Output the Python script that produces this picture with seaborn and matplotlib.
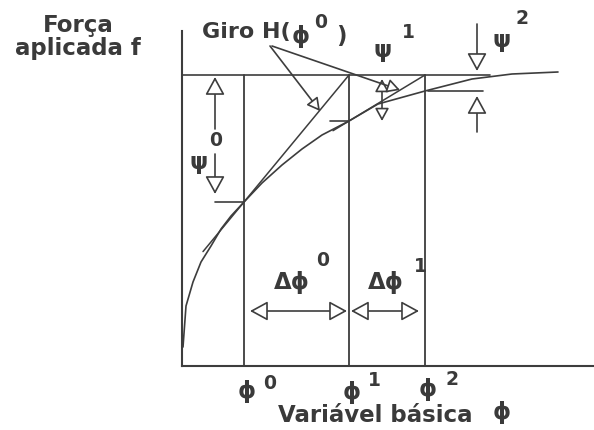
import matplotlib
matplotlib.use("Agg")
import matplotlib.pyplot as plt
from matplotlib.patches import ArrowStyle
import seaborn as sns

sns.set_style("white")
plt.rcParams["font.family"] = ["DejaVu Sans"]

INK = "#3d3d3d"
TXT = "#3a3a3a"

# Response curve f(phi), read as (phi, force) pairs in plot units
curve_phi = [1, 4, 11, 19, 29, 39, 49, 62, 80, 100, 120, 140, 167, 196, 243, 290, 330, 376]
curve_force = [19, 60, 84, 104, 120, 137, 150, 164, 183, 201, 217, 231, 245, 262, 275, 287, 292, 294]

# Iterates phi^0, phi^1, phi^2 and the force reached at each of them
phi_iter = [62, 167, 243]
force_iter = [164, 245, 275]
iter_names = ["0", "1", "2"]

# Applied load level
f_applied = 291
f_line_end = 308

# How far each tangent (stiffness H) is drawn to the left of its iterate
tangent_back = [41, 16]

PHI = "\u03d5"
PSI = "\u03c8"

fig = plt.figure(figsize=(5.94, 4.31), dpi=100)
ax = fig.add_axes([182 / 594, (431 - 367) / 431, 412 / 594, 335 / 431])
ax.set_xlim(0, 412)
ax.set_ylim(0, 335)
ax.set_xticks([])
ax.set_yticks([])
for s in ["top", "right"]:
    ax.spines[s].set_visible(False)
for s in ["left", "bottom"]:
    ax.spines[s].set_color(INK)
    ax.spines[s].set_linewidth(1.5)

# Equilibrium curve
sns.lineplot(x=curve_phi, y=curve_force, ax=ax, color=INK, lw=1.2, sort=False)

# Applied force level
ax.plot([0, f_line_end], [f_applied, f_applied], color=INK, lw=1.2)

# Vertical lines at each iterate
for p in phi_iter:
    ax.plot([p, p], [0, f_applied], color=INK, lw=1.3)

# Tangent lines: from the curve at phi^k up to the load level at phi^(k+1)
for k in range(2):
    x0, y0 = phi_iter[k], force_iter[k]
    x1, y1 = phi_iter[k + 1], f_applied
    slope = (y1 - y0) / (x1 - x0)
    xs = x0 - tangent_back[k]
    ax.plot([xs, x1], [y0 - slope * tangent_back[k], y1], color=INK, lw=1.1)

# Short ticks marking the force reached at each iterate
ax.plot([phi_iter[0] - 29, phi_iter[0]], [force_iter[0]] * 2, color=INK, lw=1.2)
ax.plot([phi_iter[1] - 19, phi_iter[1]], [force_iter[1]] * 2, color=INK, lw=1.2)
ax.plot([phi_iter[2] + 3, phi_iter[2] + 58], [force_iter[2]] * 2, color=INK, lw=1.2)


def arrow(x0, y0, x1, y1, style="-|>", scale=10):
    ax.annotate("", xy=(x1, y1), xytext=(x0, y0), annotation_clip=False,
                arrowprops=dict(arrowstyle=ArrowStyle(style, head_length=1.1, head_width=0.6),
                                mutation_scale=scale, fc="white", ec=INK, lw=1.2,
                                shrinkA=0, shrinkB=0))


# Residual psi^0 (split around its label)
arrow(33, 237, 33, f_applied - 2)
arrow(33, 212, 33, force_iter[0] + 8)
# Residual psi^1
arrow(200, force_iter[1], 200, f_applied - 4, style="<|-|>", scale=7)
# Residual psi^2
arrow(295, 342, 295, f_applied + 4)
arrow(295, 234, 295, force_iter[2] - 5)

# Increments delta phi
arrow(phi_iter[0] + 6, 55, phi_iter[1] - 2, 55, style="<|-|>")
arrow(phi_iter[1] + 2, 55, phi_iter[2] - 6, 55, style="<|-|>")

# Pointers from the "Giro H" label to the tangents
arrow(88, 320, 138, 255, scale=7)
arrow(90, 320, 218, 276, scale=7)

tk = dict(color=TXT, fontweight="bold", clip_on=False, ha="center", va="center")
big = 16.5
sup = 13.5

ax.text(78 - 182, 367 - 37, "Força\naplicada f", fontsize=big, linespacing=1.0, **tk)

ax.text(202 - 182, 367 - 32, "Giro H(", fontsize=16, color=TXT, fontweight="bold",
        ha="left", va="center", clip_on=False)
ax.text(301 - 182, 367 - 37, PHI, fontsize=big, **tk)
ax.text(321 - 182, 367 - 22, "0", fontsize=sup, **tk)
ax.text(341 - 182, 367 - 36, ")", fontsize=big, **tk)

ax.text(199 - 182, 367 - 163, PSI, fontsize=big, **tk)
ax.text(216 - 182, 367 - 141, "0", fontsize=sup, **tk)
ax.text(383 - 182, 367 - 51, PSI, fontsize=big, **tk)
ax.text(408 - 182, 367 - 32, "1", fontsize=sup, **tk)
ax.text(502 - 182, 367 - 40, PSI, fontsize=big, **tk)
ax.text(522 - 182, 367 - 18, "2", fontsize=sup, **tk)

ax.text(292 - 182, 367 - 283, "Δ" + PHI, fontsize=big, **tk)
ax.text(323 - 182, 367 - 261, iter_names[0], fontsize=sup, **tk)
ax.text(386 - 182, 367 - 283, "Δ" + PHI, fontsize=big, **tk)
ax.text(420 - 182, 367 - 267, iter_names[1], fontsize=sup, **tk)

# Iterate labels under the axis
lab_y = [392, 393, 390]
sup_dx = [23, 22, 24]
sup_y = [384, 381, 380]
for p, name, ly, dx, sy in zip(phi_iter, iter_names, lab_y, sup_dx, sup_y):
    ax.text(p + 3, 367 - ly, PHI, fontsize=big, **tk)
    ax.text(p + 3 + dx, 367 - sy, name, fontsize=sup, **tk)

ax.text(375 - 182, 367 - 416, "Variável básica", fontsize=big, **tk)
ax.text(502 - 182, 367 - 413, PHI, fontsize=big, **tk)

fig.savefig("out.png", dpi=100, facecolor="white")
